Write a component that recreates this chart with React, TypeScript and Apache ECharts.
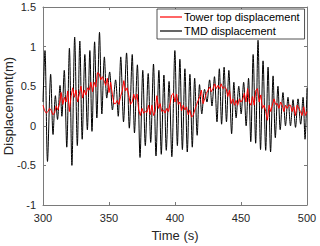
import React, { useEffect, useRef } from "react";
import * as echarts from "echarts";

const xTicks = [300, 350, 400, 450, 500];
const yTicks = [-1, -0.5, 0, 0.5, 1, 1.5];

// TMD displacement: peaks & troughs (time s, displacement m)
const tmdTimes = [
  300, 301.5, 303.4, 305.8, 307.6, 309.4, 311.0, 312.9, 314.3, 316.1, 318.0, 320.0, 321.9,
  324.0, 326.0, 327.9, 329.7, 331.7, 333.6, 335.5, 337.1, 339.1, 340.8, 342.8, 344.6,
  346.5, 348.3, 350.5, 352.6, 355.0, 357.0, 358.9, 361.0, 363.3, 365.4, 367.6, 369.3,
  371.5, 373.5, 375.6, 377.5, 379.7, 381.6, 383.7, 385.6, 387.8, 389.6, 391.6, 393.4,
  395.5, 397.6, 399.9, 401.8, 403.7, 405.6, 407.5, 409.3, 411.3, 413.1, 414.9, 416.8,
  418.6, 420.3, 422.4, 424.2, 426.2, 428.0, 429.9, 431.8, 433.6, 435.3, 437.2, 439.0,
  440.8, 442.9, 444.6, 446.3, 448.3, 450.1, 452.0, 453.9, 455.7, 457.4, 459.2, 461.1,
  462.9, 464.8, 466.7, 468.7, 470.5, 472.4, 474.3, 476.0, 478.0, 479.7, 481.8, 483.7,
  485.6, 487.5, 489.4, 491.3, 493.2, 495.2, 497.0, 498.5, 500.0,
];
const tmdValues = [
  0.30, 0.95, -0.45, 0.65, -0.11, 0.38, 0.08, 0.51, 0.12, 0.70, -0.27, 0.98, -0.50,
  1.12, -0.25, 1.07, -0.17, 0.90, -0.05, 0.95, -0.07, 1.06, 0.10, 1.18, 0.15,
  0.87, 0.35, 0.68, 0.20, 0.58, 0.12, 0.87, 0.05, 0.92, -0.03, 0.90, -0.09,
  0.77, -0.40, 0.70, -0.25, 0.66, -0.21, 0.78, -0.38, 0.70, -0.36, 0.64, -0.31,
  0.56, -0.39, 0.95, -0.25, 0.84, -0.30, 0.72, -0.33, 0.65, -0.27, 0.60, -0.12,
  0.52, 0.15, 0.46, 0.30, 0.58, 0.25, 0.62, 0.05, 0.72, 0.02, 0.74, 0.05,
  0.70, -0.10, 0.55, 0.10, 0.50, 0.15, 0.55, 0.00, 0.60, -0.20, 0.90, -0.22,
  1.08, -0.30, 0.82, -0.31, 0.74, -0.33, 0.63, -0.15, 0.50, -0.05, 0.42, 0.00,
  0.36, 0.00, 0.33, -0.02, 0.34, 0.02, 0.36, -0.17, 0.48,
];

// Tower top displacement sampled every 1.25 s from 300 s to 500 s
const towerStart = 300;
const towerStep = 1.25;
const towerValues = [
  0.26, 0.19, 0.16, 0.18, 0.22, 0.19, 0.14, 0.16, 0.25, 0.20, 0.28, 0.42, 0.27, 0.36,
  0.30, 0.44, 0.18, 0.37, 0.48, 0.36, 0.45, 0.30, 0.40, 0.50, 0.35, 0.45, 0.39, 0.48,
  0.45, 0.55, 0.43, 0.55, 0.49, 0.67, 0.66, 0.58, 0.62, 0.57, 0.51, 0.60, 0.42,
  0.55, 0.40, 0.28, 0.28, 0.32, 0.27, 0.37, 0.44, 0.57, 0.44, 0.48, 0.38, 0.27, 0.30,
  0.40, 0.33, 0.40, 0.20, 0.13, 0.22, 0.16, 0.18, 0.17, 0.26, 0.14, 0.26, 0.13, 0.18,
  0.38, 0.22, 0.28, 0.18, 0.20, 0.16, 0.22, 0.18, 0.28, 0.39, 0.41, 0.30,
  0.40, 0.27, 0.30, 0.19, 0.26, 0.20, 0.24, 0.14, 0.20, 0.11, 0.13, 0.20, 0.26, 0.32,
  0.37, 0.45, 0.28, 0.34, 0.41, 0.45, 0.49, 0.43, 0.47, 0.53, 0.47, 0.51, 0.47, 0.53,
  0.47, 0.49, 0.47, 0.37, 0.45, 0.28, 0.34, 0.26, 0.32, 0.26, 0.34, 0.30,
  0.33, 0.41, 0.30, 0.47, 0.30, 0.26, 0.37, 0.26, 0.45, 0.47, 0.30, 0.39, 0.22, 0.26,
  0.18, 0.07, 0.26, 0.18, 0.26, 0.34, 0.27, 0.28, 0.22, 0.30, 0.26, 0.18, 0.26, 0.22,
  0.26, 0.26, 0.18, 0.24, 0.13, 0.26, 0.22, 0.18, 0.13, 0.24, 0.13, 0.18,
];

const FONT = "'Liberation Sans', Arial, Helvetica, sans-serif";
const AXIS_COLOR = "#7a7a7a";
const TEXT_COLOR = "#262626";

export default function App() {
  const ref = useRef<HTMLDivElement>(null);
  useEffect(() => {
    if (!ref.current) return;
    const chart = echarts.init(ref.current, null, { renderer: "svg" });
    const tmdData = tmdTimes.map((t, i) => [t, tmdValues[i]]);
    const towerData = towerValues.map((v, i) => [towerStart + i * towerStep, v]);
    const xMin = xTicks[0];
    const xMax = xTicks[xTicks.length - 1];
    const yMin = yTicks[0];
    const yMax = yTicks[yTicks.length - 1];
    const common = {
      axisLine: { show: true, onZero: false, lineStyle: { color: AXIS_COLOR, width: 1 } },
      axisTick: { show: true, inside: true, length: 3, lineStyle: { color: AXIS_COLOR } },
      splitLine: { show: false },
    };
    chart.setOption({
      animation: false,
      backgroundColor: "#fff",
      textStyle: { fontFamily: FONT },
      grid: {
        left: 43,
        top: 7,
        width: 264,
        height: 198,
        show: false,
        containLabel: false,
        outerBoundsMode: "none",
      },
      legend: {
        orient: "vertical",
        left: 157,
        top: 9,
        data: ["Tower top displacement", "TMD displacement"],
        icon: "rect",
        itemWidth: 22,
        itemHeight: 1.2,
        itemGap: 2,
        padding: [2, 5, 2, 3],
        backgroundColor: "#fff",
        borderColor: "#262626",
        borderWidth: 0.8,
        borderRadius: 0,
        textStyle: {
          fontFamily: FONT,
          fontSize: 11,
          color: "#000",
          lineHeight: 12,
          padding: [0, 0, 0, -3],
        },
      },
      xAxis: [
        {
          type: "value",
          min: xMin,
          max: xMax,
          interval: 50,
          position: "bottom",
          ...common,
          axisLabel: { color: TEXT_COLOR, fontSize: 11, fontFamily: FONT, margin: 7 },
          name: "Time (s)",
          nameLocation: "middle",
          nameGap: 24,
          nameMoveOverlap: false,
          nameTextStyle: { color: TEXT_COLOR, fontSize: 13, fontFamily: FONT },
        },
        {
          type: "value",
          min: xMin,
          max: xMax,
          interval: 50,
          position: "top",
          ...common,
          axisLabel: { show: false },
        },
      ],
      yAxis: [
        {
          type: "value",
          min: yMin,
          max: yMax,
          interval: 0.5,
          position: "left",
          ...common,
          axisLabel: { color: TEXT_COLOR, fontSize: 11, fontFamily: FONT, margin: 7 },
          name: "Displacement(m)",
          nameLocation: "middle",
          nameGap: 28,
          nameMoveOverlap: false,
          nameTextStyle: { color: TEXT_COLOR, fontSize: 13, fontFamily: FONT },
        },
        {
          type: "value",
          min: yMin,
          max: yMax,
          interval: 0.5,
          position: "right",
          ...common,
          axisLabel: { show: false },
        },
      ],
      series: [
        {
          name: "TMD displacement",
          type: "line",
          data: tmdData,
          symbol: "none",
          smooth: 0.3,
          lineStyle: { color: "#000", width: 1 },
          itemStyle: { color: "#000" },
          z: 2,
        },
        {
          name: "Tower top displacement",
          type: "line",
          data: towerData,
          symbol: "none",
          lineStyle: { color: "#ff0000", width: 1 },
          itemStyle: { color: "#ff0000" },
          z: 3,
        },
      ],
    });
    return () => chart.dispose();
  }, []);
  return (
    <div
      ref={ref}
      style={{ position: "fixed", left: 0, top: 0, width: 320, height: 246, background: "#fff" }}
    />
  );
}
